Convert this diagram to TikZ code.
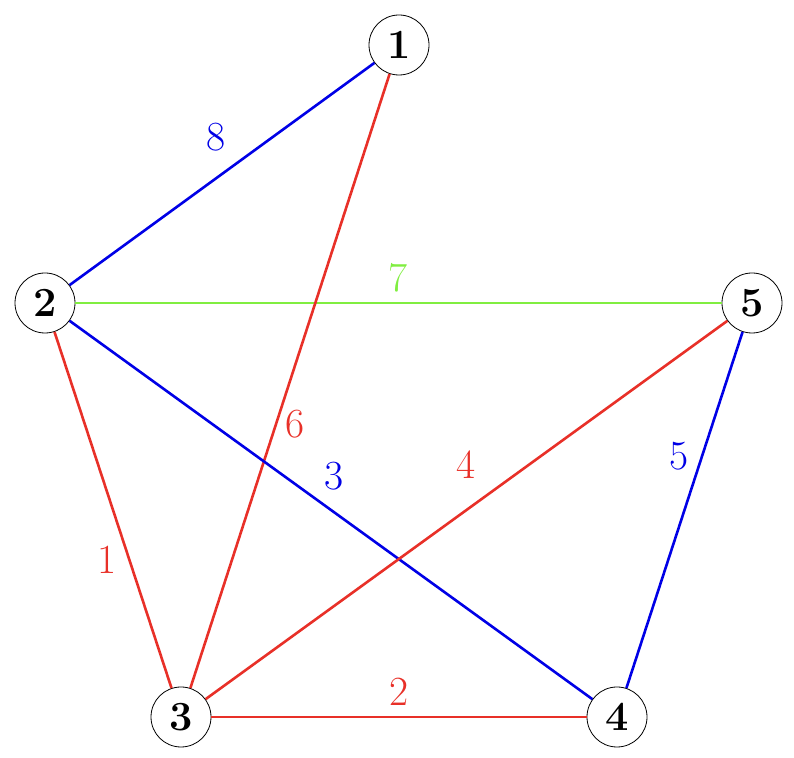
\documentclass[tikz,border=0pt]{standalone}
\usetikzlibrary{positioning}
\definecolor{redE}{RGB}{232,48,40}
\definecolor{greenE}{RGB}{128,238,64}
\definecolor{blueE}{RGB}{0,0,230}

\begin{document}
\begin{tikzpicture}[x=0.5pt,y=-0.5pt,
    vertex/.style={draw,circle,fill=white,minimum size=30pt,inner sep=0pt,font=\huge\bfseries},
    edge/.style={line width=1.3pt},
    wt/.style={font=\huge,inner sep=3pt}]
    \useasboundingbox (0,0) rectangle (794,758);

    \node[vertex] (v1) at (399,45) {1};
    \node[vertex] (v2) at (45,303) {2};
    \node[vertex] (v5) at (752,303) {5};
    \node[vertex] (v3) at (181,717) {3};
    \node[vertex] (v4) at (617,717) {4};

    \draw[edge,blueE] (v2) -- node[wt,pos=0.55,above left=3pt] {8} (v1);
    \draw[edge,greenE] (v2) -- node[wt,above=2pt] {7} (v5);
    \draw[edge,redE] (v3) -- node[wt,pos=0.43,right=1pt] {6} (v1);
    \draw[edge,blueE] (v2) -- node[wt,pos=0.47,above right=1pt] {3} (v4);
    \draw[edge,redE] (v3) -- node[wt,pos=0.5,above=12pt] {4} (v5);
    \draw[edge,blueE] (v4) -- node[wt,pos=0.65,left=3pt] {5} (v5);
    \draw[edge,redE] (v3) -- node[wt,pos=0.36,left=3pt] {1} (v2);
    \draw[edge,redE] (v3) -- node[wt,above=2pt] {2} (v4);
\end{tikzpicture}
\end{document}
